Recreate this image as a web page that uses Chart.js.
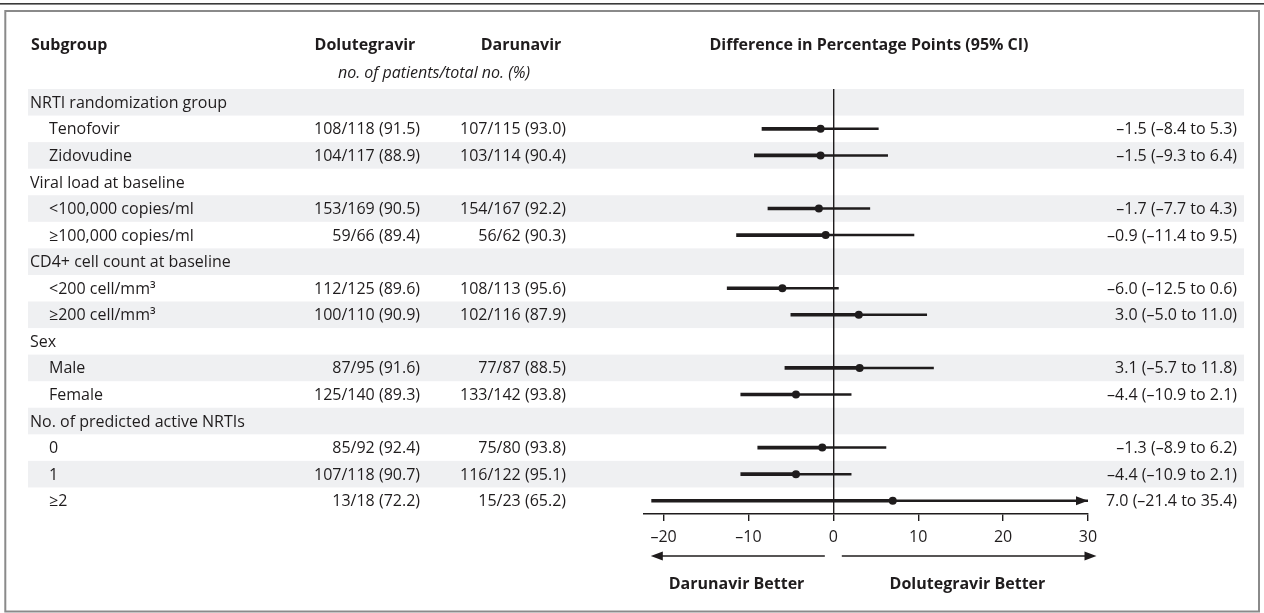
<!DOCTYPE html>
<html>
<head>
<meta charset="utf-8">
<script src="https://cdn.jsdelivr.net/npm/chart.js@4.4.0/dist/chart.umd.min.js"></script>
<style>
  html, body { margin: 0; padding: 0; background: #fff; }
  #wrap { width: 1264px; height: 613px; position: relative; }
</style>
</head>
<body>
<div id="wrap"><canvas id="forest"></canvas></div>
<script>
// rows of the table, top to bottom
const subgroups = [
  'NRTI randomization group', 'Tenofovir', 'Zidovudine',
  'Viral load at baseline', '<100,000 copies/ml', '≥100,000 copies/ml',
  'CD4+ cell count at baseline', '<200 cell/mm³', '≥200 cell/mm³',
  'Sex', 'Male', 'Female',
  'No. of predicted active NRTIs', '0', '1', '≥2'
];
const isGroup = [true, false, false, true, false, false, true, false, false, true, false, false, true, false, false, false];

const doluText = ['', '108/118 (91.5)', '104/117 (88.9)', '', '153/169 (90.5)', '59/66 (89.4)', '',
  '112/125 (89.6)', '100/110 (90.9)', '', '87/95 (91.6)', '125/140 (89.3)', '', '85/92 (92.4)', '107/118 (90.7)', '13/18 (72.2)'];
const daruText = ['', '107/115 (93.0)', '103/114 (90.4)', '', '154/167 (92.2)', '56/62 (90.3)', '',
  '108/113 (95.6)', '102/116 (87.9)', '', '77/87 (88.5)', '133/142 (93.8)', '', '75/80 (93.8)', '116/122 (95.1)', '15/23 (65.2)'];

// difference in percentage points with 95% CI
const diff  = [null, -1.5, -1.5, null, -1.7, -0.9, null, -6.0, 3.0, null, 3.1, -4.4, null, -1.3, -4.4, 7.0];
const lower = [null, -8.4, -9.3, null, -7.7, -11.4, null, -12.5, -5.0, null, -5.7, -10.9, null, -8.9, -10.9, -21.4];
const upper = [null, 5.3, 6.4, null, 4.3, 9.5, null, 0.6, 11.0, null, 11.8, 2.1, null, 6.2, 2.1, 35.4];

const xTicks = [-20, -10, 0, 10, 20, 30];

const INK = '#1f1c1d';
const BAND = '#eff0f2';
const FONT = '"Open Sans", sans-serif';

const fmt = v => (v < 0 ? '–' + Math.abs(v).toFixed(1) : v.toFixed(1));

const forestDecor = {
  id: 'forestDecor',
  beforeDraw(chart) {
    const { ctx } = chart;
    const ys = chart.scales.y;
    ctx.save();
    ctx.fillStyle = '#fff';
    ctx.fillRect(0, 0, chart.width, chart.height);
    // frame
    ctx.fillStyle = '#3a3a3a';
    ctx.fillRect(0, 3, chart.width, 1.6);
    ctx.strokeStyle = '#8a8a8a';
    ctx.lineWidth = 2;
    ctx.strokeRect(5.3, 11, 1253.7, 600.5);
    // alternating row bands
    const pitch = ys.getPixelForValue(1) - ys.getPixelForValue(0);
    ctx.fillStyle = BAND;
    subgroups.forEach((s, i) => {
      if (i % 2 === 0) {
        const yc = ys.getPixelForValue(i);
        ctx.fillRect(28, yc - pitch / 2, 1216, pitch);
      }
    });
    ctx.restore();
  },
  afterDraw(chart) {
    const { ctx } = chart;
    const xs = chart.scales.x;
    const ys = chart.scales.y;
    ctx.save();
    ctx.fillStyle = INK;
    ctx.strokeStyle = INK;
    ctx.textBaseline = 'middle';

    // headers
    ctx.font = `bold 16px ${FONT}`;
    ctx.textAlign = 'left';
    ctx.fillText('Subgroup', 31, 45);
    ctx.textAlign = 'center';
    ctx.fillText('Dolutegravir', 365, 45);
    ctx.fillText('Darunavir', 521, 45);
    ctx.fillText('Difference in Percentage Points (95% CI)', 869, 45);
    ctx.font = `italic 16px ${FONT}`;
    ctx.fillText('no. of patients/total no. (%)', 434, 73);

    // table rows
    ctx.font = `16px ${FONT}`;
    subgroups.forEach((s, i) => {
      const y = ys.getPixelForValue(i) + 1;
      ctx.textAlign = 'left';
      ctx.fillText(s, isGroup[i] ? 30 : 49, y);
      ctx.textAlign = 'right';
      if (doluText[i]) ctx.fillText(doluText[i], 420, y);
      if (daruText[i]) ctx.fillText(daruText[i], 566, y);
      if (diff[i] !== null) {
        ctx.fillText(`${fmt(diff[i])} (${fmt(lower[i])} to ${fmt(upper[i])})`, 1237, y);
      }
    });

    // arrowhead where the CI runs past the axis
    upper.forEach((u, i) => {
      if (u !== null && u > xs.max) {
        const tip = xs.getPixelForValue(xs.max);
        const y = ys.getPixelForValue(i);
        ctx.beginPath();
        ctx.moveTo(tip, y);
        ctx.lineTo(tip - 12, y - 4.5);
        ctx.lineTo(tip - 12, y + 4.5);
        ctx.closePath();
        ctx.fill();
      }
    });

    // direction arrows under the axis
    const ay = 556;
    const arrow = (from, to) => {
      const x0 = xs.getPixelForValue(from);
      const x1 = xs.getPixelForValue(to);
      const dir = Math.sign(x1 - x0);
      ctx.lineWidth = 1.6;
      ctx.beginPath();
      ctx.moveTo(x0, ay);
      ctx.lineTo(x1 - dir * 8, ay);
      ctx.stroke();
      ctx.beginPath();
      ctx.moveTo(x1, ay);
      ctx.lineTo(x1 - dir * 12, ay - 4.5);
      ctx.lineTo(x1 - dir * 12, ay + 4.5);
      ctx.closePath();
      ctx.fill();
    };
    arrow(-1, -21.5);
    arrow(1, 31);

    ctx.font = `bold 16px ${FONT}`;
    ctx.textAlign = 'center';
    ctx.fillText('Darunavir Better', xs.getPixelForValue(-11.4), 584);
    ctx.fillText('Dolutegravir Better', xs.getPixelForValue(15.8), 584);
    ctx.restore();
  }
};

const ctx = document.getElementById('forest').getContext('2d');

new Chart(ctx, {
  type: 'bar',
  data: {
    labels: subgroups,
    datasets: [
      {
        label: 'lower',
        data: diff.map((d, i) => (d === null ? null : [lower[i], d])),
        backgroundColor: INK,
        barThickness: 3,
        grouped: false,
        indexAxis: 'y'
      },
      {
        label: 'upper',
        data: diff.map((d, i) => (d === null ? null : [d, upper[i]])),
        backgroundColor: INK,
        barThickness: 1.8,
        grouped: false,
        indexAxis: 'y'
      },
      {
        type: 'line',
        label: 'estimate',
        data: diff,
        showLine: false,
        indexAxis: 'y',
        pointRadius: 4,
        pointBackgroundColor: INK,
        pointBorderWidth: 0
      }
    ]
  },
  options: {
    indexAxis: 'y',
    responsive: true,
    maintainAspectRatio: false,
    animation: false,
    devicePixelRatio: 1,
    layout: { padding: { left: 644, right: 176, top: 89, bottom: 0 } },
    plugins: { legend: { display: false }, tooltip: { enabled: false } },
    scales: {
      x: {
        type: 'linear',
        position: 'bottom',
        min: -22.3,
        max: 30,
        afterBuildTicks: s => { s.ticks = xTicks.map(v => ({ value: v })); },
        afterFit: s => { s.height = 99; },
        border: { display: true, color: INK, width: 1.6 },
        grid: {
          drawOnChartArea: true,
          color: c => (c.tick && c.tick.value === 0 ? INK : 'rgba(0,0,0,0)'),
          lineWidth: 1.4,
          tickLength: 7,
          tickColor: INK,
          tickWidth: 1.4
        },
        ticks: {
          color: INK,
          font: { family: FONT, size: 16 },
          padding: 7,
          autoSkip: false,
          maxRotation: 0,
          callback: v => (v < 0 ? '–' + Math.abs(v) : String(v))
        }
      },
      y: {
        type: 'category',
        display: false
      }
    }
  },
  plugins: [forestDecor]
});
</script>
</body>
</html>
